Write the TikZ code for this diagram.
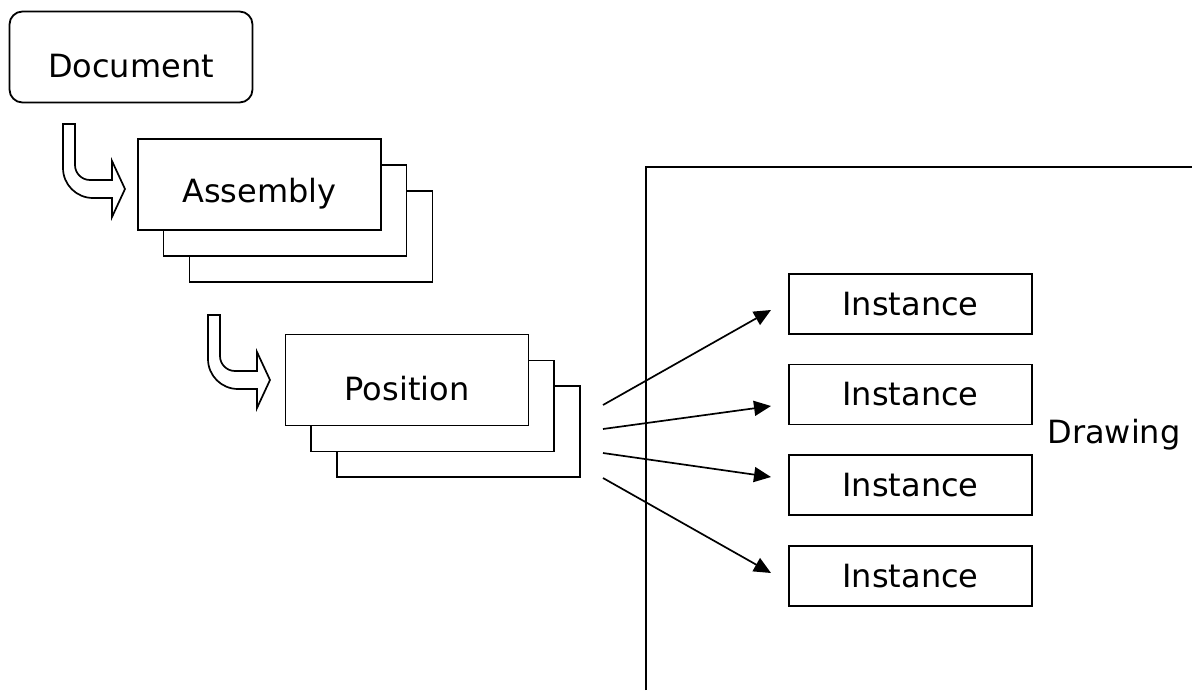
\documentclass[tikz,border=0pt]{standalone}
\usepackage{fontspec}
\setmainfont{DejaVu Sans}
\usetikzlibrary{arrows.meta}
\begin{document}
\begin{tikzpicture}[x=0.5pt,y=-0.5pt,
  font=\fontsize{16pt}{19pt}\selectfont,
  bigbox/.style={draw,line width=0.9pt,fill=white,minimum width=121.5pt,minimum height=45.5pt,inner sep=0pt},
  docbox/.style={bigbox,rounded corners=6.5pt},
  instbox/.style={draw,line width=0.9pt,fill=white,minimum width=121.5pt,minimum height=30pt,inner sep=0pt},
  lowtext/.style={label={[yshift=-4.5pt,inner sep=0pt]center:#1}},
  link/.style={line width=0.85pt,-{Triangle[length=8.5pt,width=7.5pt]}},
  frameline/.style={line width=1.25pt},
  bent/.pic={
    \draw[line width=0.85pt,fill=white,line join=miter]
      (0,0) -- (12,0) -- (12,41) .. controls (12,49.3) and (18.7,56) .. (27,56)
      -- (49,56) -- (49,37) -- (62,65) -- (49,93) -- (49,74) -- (30,74)
      .. controls (13.4,74) and (0,60.6) .. (0,44) -- cycle;
  }]
\useasboundingbox (0,0) rectangle (1192,690);

% Document
\node[docbox,lowtext=Document] (doc) at (131,57) {};

% Assembly stack
\node[bigbox] (asm3) at (311,236.5) {};
\node[bigbox] (asm2) at (285,210.5) {};
\node[bigbox,lowtext=Assembly] (asm) at (259.5,184.5) {};

% Position stack
\node[bigbox] (pos3) at (458.5,431.5) {};
\node[bigbox] (pos2) at (432.5,406) {};
\node[bigbox,lowtext=Position] (pos) at (407,380) {};

% hollow bent arrows
\pic at (63,124) {bent};
\pic at (208,315) {bent};

% Drawing frame
\coordinate (fb) at (646,690);
\coordinate (fc) at (646,167);
\coordinate (fr) at (1192,167);
\draw[frameline] (fb) -- (fc) -- (fr);
\node[anchor=base west,inner sep=0pt] (drw) at (1047,443) {Drawing};

% Instances
\node[instbox] (i1) at (910.5,304) {Instance};
\node[instbox] (i2) at (910.5,394.5) {Instance};
\node[instbox] (i3) at (910.5,485) {Instance};
\node[instbox] (i4) at (910.5,576) {Instance};

% connectors
\coordinate (s1) at (603,405); \coordinate (e1) at (771,310);
\coordinate (s2) at (603,429); \coordinate (e2) at (771,406);
\coordinate (s3) at (603,453); \coordinate (e3) at (771,477);
\coordinate (s4) at (603,478); \coordinate (e4) at (771,573);
\draw[link] (s1) -- (e1);
\draw[link] (s2) -- (e2);
\draw[link] (s3) -- (e3);
\draw[link] (s4) -- (e4);
\end{tikzpicture}
\end{document}
